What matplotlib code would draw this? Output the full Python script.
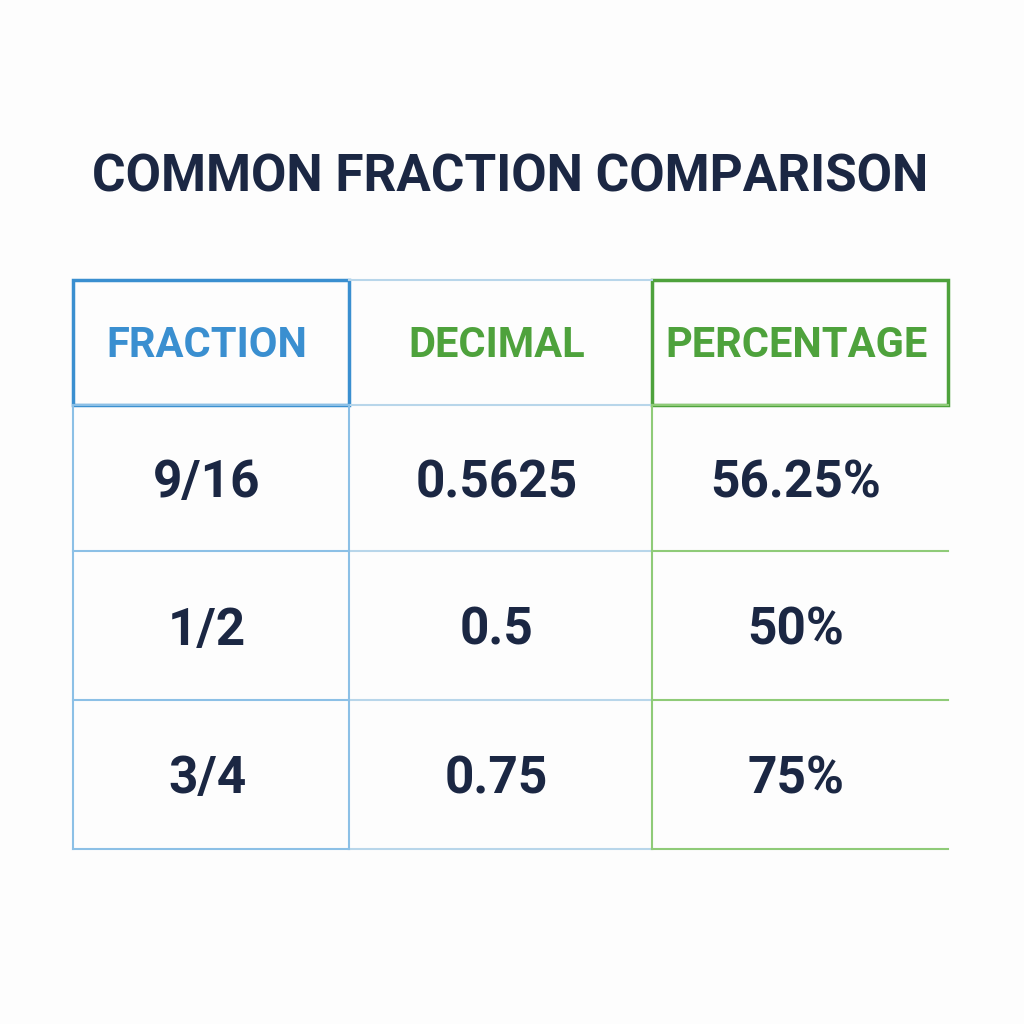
import matplotlib
matplotlib.use("Agg")
import matplotlib.pyplot as plt

title = "COMMON FRACTION COMPARISON"
headers = ["FRACTION", "DECIMAL", "PERCENTAGE"]
fractions = ["9/16", "1/2", "3/4"]
decimals = ["0.5625", "0.5", "0.75"]
percentages = ["56.25%", "50%", "75%"]

col_x = [73, 349, 652, 948]
row_y = [280, 405, 551, 700, 849]
navy = "#1b2743"
blue = "#3a8fd0"
green = "#4ea23c"
lblue = "#8cc0e6"
lgreen = "#8fcb78"
mid = "#b8d6ea"

fig = plt.figure(figsize=(10.24, 10.24), dpi=100)
ax = fig.add_axes([0, 0, 1, 1])
ax.set_xlim(0, 1024); ax.set_ylim(1024, 0); ax.axis("off")
fig.patch.set_facecolor("#fdfdfd")

font = "Roboto"
ax.text(510, 178, title, ha="center", va="center", fontsize=37, fontweight="bold", color=navy, family=font)

for y in row_y[1:]:
    ax.plot([col_x[0], col_x[1]], [y, y], color=lblue, lw=1.5)
    ax.plot([col_x[1], col_x[2]], [y, y], color=mid, lw=1.5)
    ax.plot([col_x[2], col_x[3]], [y, y], color=lgreen, lw=1.5)
ax.plot([col_x[1], col_x[2]], [row_y[0], row_y[0]], color=mid, lw=1.5)
ax.plot([col_x[0]]*2, [row_y[1], row_y[-1]], color=lblue, lw=1.5)
ax.plot([col_x[1]]*2, [row_y[1], row_y[-1]], color=lblue, lw=1.5)
ax.plot([col_x[2]]*2, [row_y[1], row_y[-1]], color=lgreen, lw=1.5)
for (x0, x1, c) in [(col_x[0], col_x[1], blue), (col_x[2], col_x[3], green)]:
    ax.add_patch(plt.Rectangle((x0, row_y[0]), x1 - x0, row_y[1] - row_y[0], fill=False, ec=c, lw=2.5))

hcols = [blue, green, green]
for i, h in enumerate(headers):
    cx = (col_x[i] + col_x[i+1]) / 2
    ax.text(cx - 4, (row_y[0] + row_y[1]) / 2 + 3, h, ha="center", va="center", fontsize=30, fontweight="bold", color=hcols[i], family=font)

for r in range(3):
    cy = (row_y[r+1] + row_y[r+2]) / 2 + 5
    for i, v in enumerate([fractions[r], decimals[r], percentages[r]]):
        cx = (col_x[i] + col_x[i+1]) / 2
        ax.text(cx - 4, cy, v, ha="center", va="center", fontsize=37, fontweight="bold", color=navy, family=font)

fig.savefig("out.png", dpi=100, facecolor=fig.get_facecolor())
